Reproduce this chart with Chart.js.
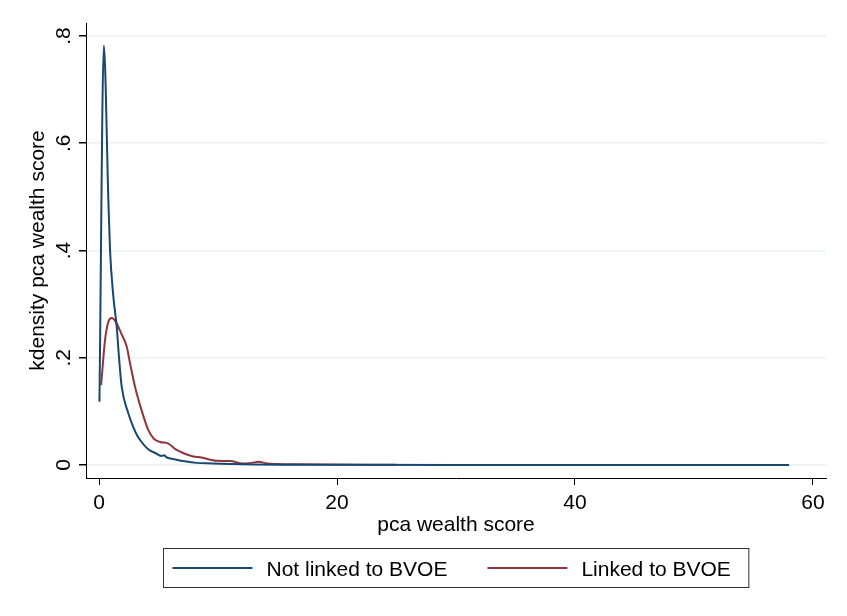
<!DOCTYPE html>
<html>
<head>
<meta charset="utf-8">
<script src="https://cdn.jsdelivr.net/npm/chart.js@4.4.0/dist/chart.umd.min.js"></script>
<style>
  html, body { margin: 0; padding: 0; background: #fff; }
  #wrap { width: 847px; height: 616px; }
</style>
</head>
<body>
<div id="wrap"><canvas id="kdChart"></canvas></div>
<script>
// kdensity curves
const notLinkedX = [0.03, 0.4, 0.78, 0.92, 1.2, 1.48, 1.68, 1.9, 2.45, 2.85, 3.2, 3.6, 4.1, 4.84, 5.26, 5.45, 5.7, 6.3, 7.2, 8.2, 9.5, 11, 13, 16, 20, 30, 40, 50, 58];
const notLinkedY = [0.118, 0.782, 0.494, 0.401, 0.314, 0.258, 0.199, 0.146, 0.097, 0.072, 0.055, 0.042, 0.030, 0.021, 0.017, 0.018, 0.014, 0.011, 0.007, 0.004, 0.003, 0.002, 0.001, 0.0006, 0.0003, 0.0001, 0.0001, 0.0001, 0.0001];

const linkedX = [0.17, 0.5, 0.78, 1.06, 1.4, 1.85, 2.32, 2.6, 3.02, 3.6, 4.14, 4.6, 5.12, 5.82, 6.45, 7.2, 7.9, 8.6, 9.87, 11, 12.1, 12.8, 13.4, 14.1, 15, 16.6, 19, 22, 25];
const linkedY = [0.149, 0.233, 0.267, 0.274, 0.267, 0.246, 0.221, 0.19, 0.146, 0.100, 0.065, 0.049, 0.043, 0.040, 0.029, 0.021, 0.016, 0.014, 0.008, 0.0075, 0.003, 0.004, 0.006, 0.003, 0.002, 0.0013, 0.0008, 0.0005, 0.0003];

const seriesLabels = ["Not linked to BVOE", "Linked to BVOE"];
const xTicks = [0, 20, 40, 60];
const yTicks = [0, 0.2, 0.4, 0.6, 0.8];

const FONT = "'Liberation Sans', Arial, sans-serif";
const BLUE = "#1a476f";
const RED = "#90353b";

const toPoints = (xs, ys) => xs.map((x, i) => ({ x: x, y: ys[i] }));

// Stata style tick label: 0, .2, .4 ...
const fmtTick = v => v === 0 ? "0" : v.toFixed(1).replace(/^0/, "");

// y tick labels (rotated) and the boxed legend
const stataExtras = {
    id: "stataExtras",
    afterDraw(chart) {
        const ctx = chart.ctx;
        const yScale = chart.scales.y;
        const area = chart.chartArea;
        ctx.save();
        ctx.font = "21px " + FONT;
        ctx.fillStyle = "#000";

        ctx.textAlign = "center";
        ctx.textBaseline = "alphabetic";
        yScale.ticks.forEach(t => {
            const py = yScale.getPixelForValue(t.value);
            ctx.save();
            ctx.translate(70, py);
            ctx.rotate(-Math.PI / 2);
            ctx.fillText(fmtTick(t.value), 0, 0);
            ctx.restore();
        });

        // legend
        const lineLen = 80, gap = 14, itemGap = 40, padL = 9, padR = 18;
        const w = chart.data.datasets.map(ds => ctx.measureText(ds.label).width);
        const boxW = padL + lineLen + gap + w[0] + itemGap + lineLen + gap + w[1] + padR;
        const boxL = Math.round((area.left + area.right) / 2 - boxW / 2) + 0.5;
        const boxT = 548.5, boxH = 39;
        ctx.strokeStyle = "#333";
        ctx.lineWidth = 1;
        ctx.strokeRect(boxL, boxT, boxW, boxH);

        let cx = boxL + padL;
        const ly = 568;
        ctx.textAlign = "left";
        chart.data.datasets.forEach((ds, i) => {
            ctx.strokeStyle = ds.borderColor;
            ctx.lineWidth = 2;
            ctx.beginPath();
            ctx.moveTo(cx, ly);
            ctx.lineTo(cx + lineLen, ly);
            ctx.stroke();
            cx += lineLen + gap;
            ctx.fillText(ds.label, cx, ly + 7.5);
            cx += w[i] + itemGap;
        });
        ctx.restore();
    }
};

const ctxKd = document.getElementById("kdChart").getContext("2d");

const kdChart = new Chart(ctxKd, {
    type: "line",
    data: {
        datasets: [{
            label: seriesLabels[0],
            data: toPoints(notLinkedX, notLinkedY),
            borderColor: BLUE,
            backgroundColor: BLUE,
            borderWidth: 2,
            pointRadius: 0,
            fill: false,
            cubicInterpolationMode: "monotone",
        }, {
            label: seriesLabels[1],
            data: toPoints(linkedX, linkedY),
            borderColor: RED,
            backgroundColor: RED,
            borderWidth: 2,
            pointRadius: 0,
            fill: false,
            cubicInterpolationMode: "monotone",
        }]
    },
    options: {
        responsive: true,
        maintainAspectRatio: false,
        animation: false,
        devicePixelRatio: 1,
        layout: { padding: { left: 0, top: 23, right: 21, bottom: 78 } },
        plugins: {
            legend: { display: false },
            tooltip: { enabled: false },
        },
        scales: {
            x: {
                type: "linear",
                min: -1.1,
                max: 61.1,
                afterBuildTicks: s => { s.ticks = xTicks.map(v => ({ value: v })); },
                afterFit: s => { s.height = 60; },
                grid: { drawOnChartArea: false, drawTicks: true, tickLength: 7, tickColor: "#000" },
                border: { display: true, color: "#000", width: 1 },
                ticks: { color: "#000", padding: 6, font: { family: FONT, size: 21 }, maxRotation: 0 },
                title: { display: true, text: "pca wealth score", color: "#000", font: { family: FONT, size: 21 }, padding: { top: 0, bottom: 0 } },
            },
            y: {
                type: "linear",
                min: -0.0242,
                max: 0.8242,
                afterBuildTicks: s => { s.ticks = yTicks.map(v => ({ value: v })); },
                afterFit: s => { s.width = 86; },
                grid: { color: "#eaf2f3", lineWidth: 1.5, drawTicks: true, tickLength: 7, tickColor: "#000" },
                border: { display: true, color: "#000", width: 1 },
                ticks: { display: false },
                title: { display: true, text: "kdensity pca wealth score", color: "#000", font: { family: FONT, size: 21 }, padding: { top: 26, bottom: 0 } },
            }
        }
    },
    plugins: [stataExtras]
});
</script>
</body>
</html>
